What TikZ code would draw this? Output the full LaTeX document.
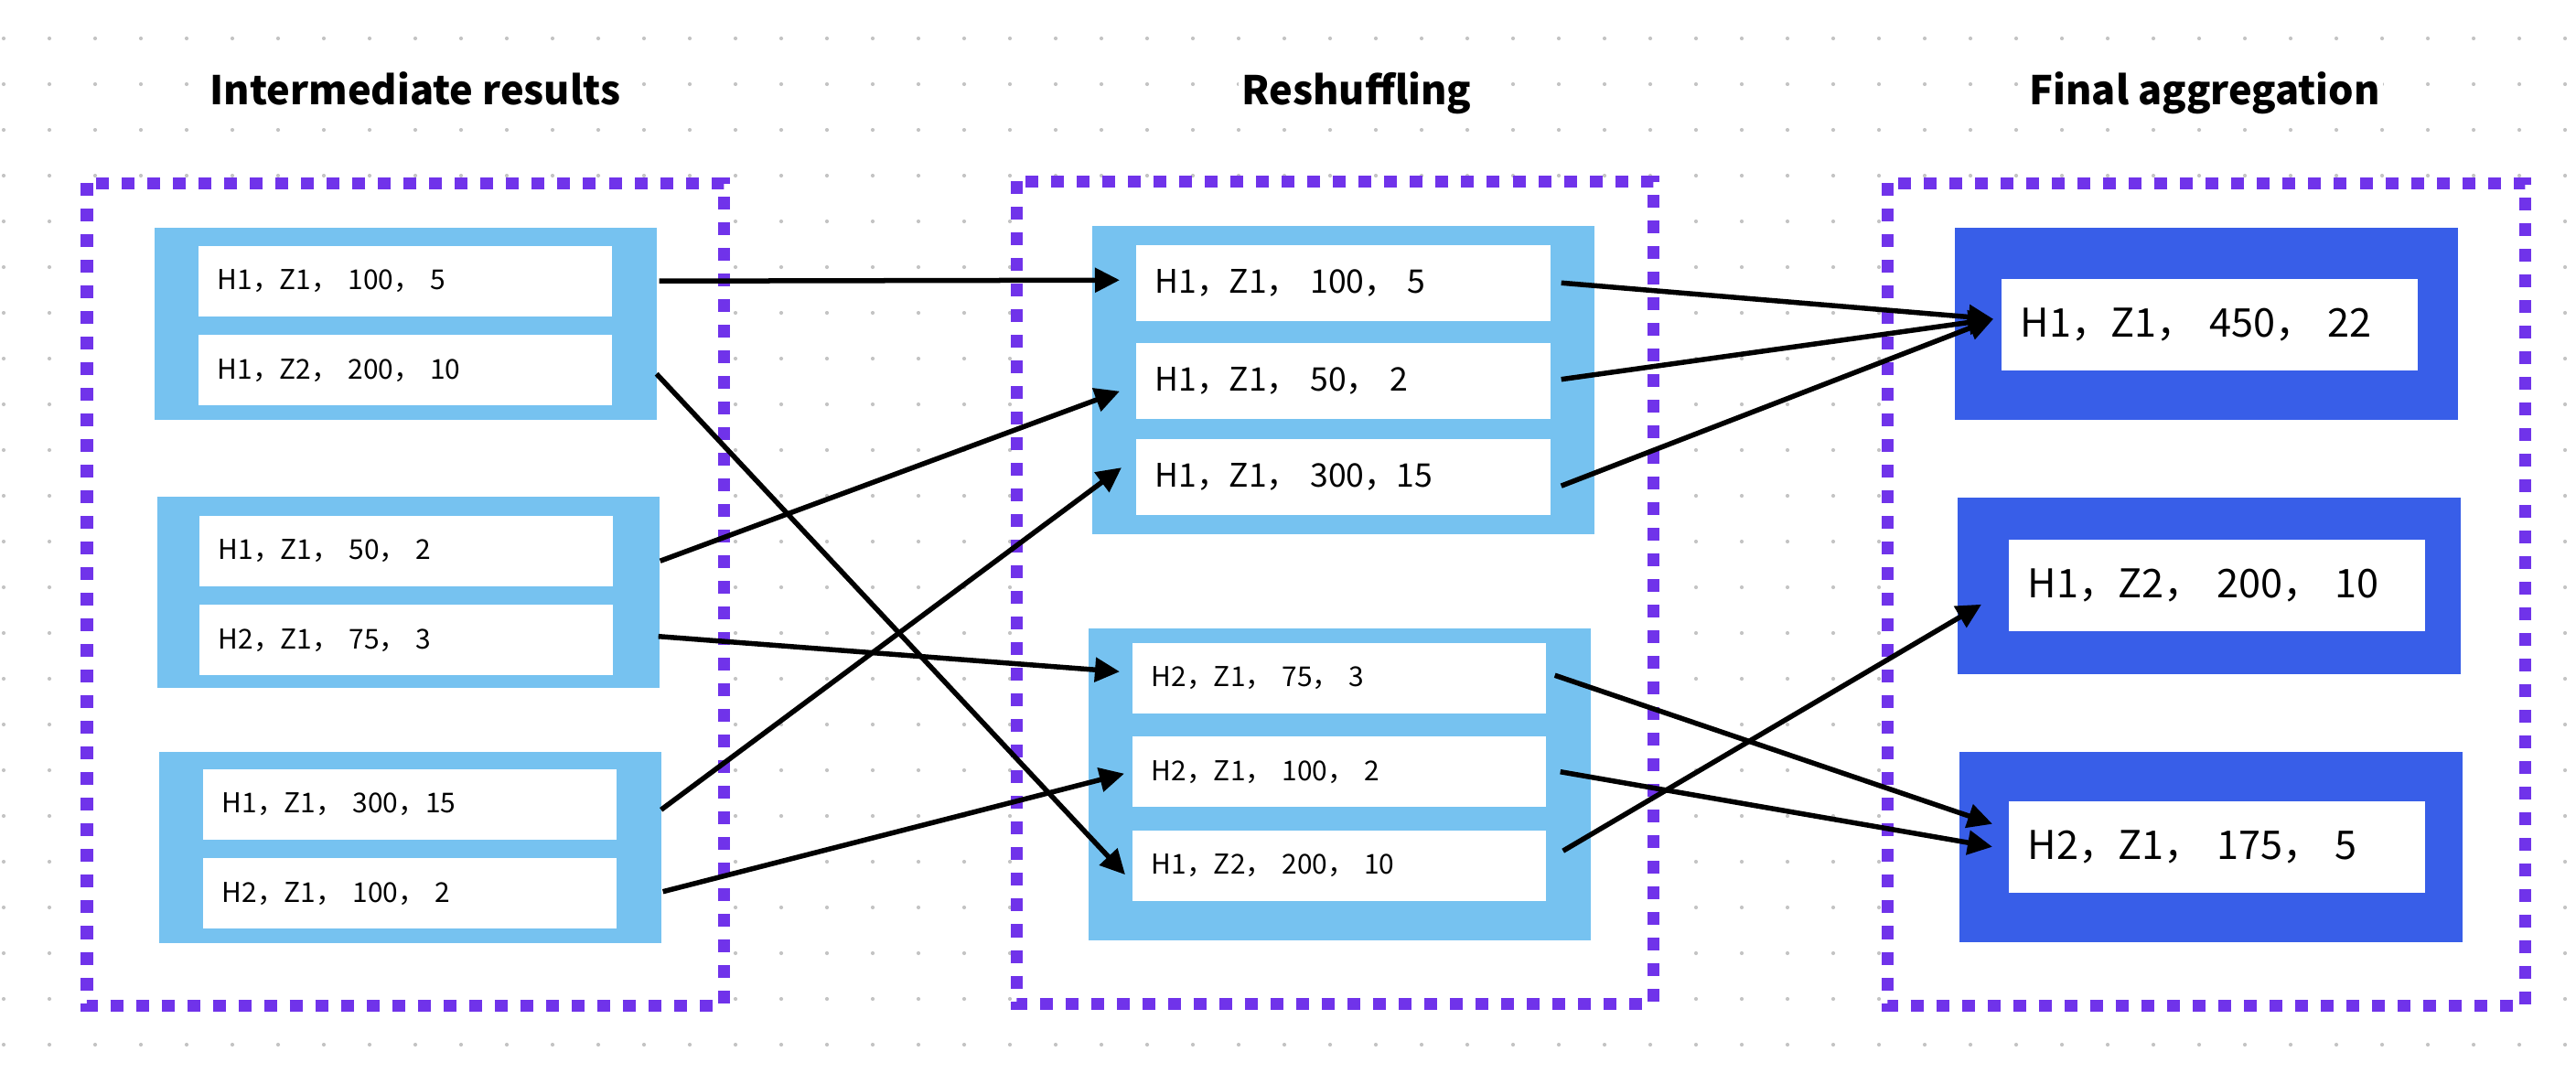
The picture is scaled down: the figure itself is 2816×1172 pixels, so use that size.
\documentclass[tikz,border=0pt]{standalone}
\usepackage{fontspec}
\setmainfont{Noto Sans CJK SC}
\usepackage{tikz}
\usetikzlibrary{positioning,calc,arrows.meta}
\definecolor{paleblue}{HTML}{76C2F0}
\definecolor{deepblue}{HTML}{385EE8}
\definecolor{framepurple}{HTML}{7033EA}
\definecolor{griddot}{HTML}{C4C4C4}
\tikzset{
  stage frame/.style={
    draw=framepurple,
    fill=white,
    line width=0.13cm,
    dash pattern=on 0.14cm off 0.14cm,
  },
  pale group/.style={
    fill=paleblue,
    anchor=north west,
    inner sep=0pt,
    minimum width=5.49cm,
    minimum height={#1},
  },
  deep group/.style={
    fill=deepblue,
    anchor=north west,
    inner sep=0pt,
    minimum width=5.50cm,
    minimum height={#1},
  },
  entry/.style={
    fill=white,
    anchor=north west,
    align=left,
    inner xsep=0.21cm,
    inner ysep=0pt,
  },
  small entry/.style={entry, text width=4.10cm, minimum height=0.77cm,
    font=\fontsize{8.5}{10}\selectfont},
  mid entry/.style={entry, text width=4.11cm, minimum height=0.83cm,
    font=\fontsize{10.1}{12}\selectfont},
  big entry/.style={entry, text width=4.13cm, minimum height=1.00cm,
    font=\fontsize{12.3}{14}\selectfont},
  heading/.style={
    anchor=base,
    fill=white,
    inner sep=1pt,
    font=\bfseries\fontsize{12.3}{14}\selectfont,
  },
  link/.style={line width=0.055cm, -{Triangle[length=0.27cm,width=0.26cm]}},
}

\begin{document}
\begin{tikzpicture}[x=0.01cm, y=-0.01cm]
    \path[use as bounding box, fill=white] (0,0) rectangle (2816,1172);
    \foreach \i in {0,...,56} {
      \foreach \j in {0,...,22} {
        \fill[griddot] (4+50*\i, 42+50*\j) circle (0.021cm);
      }
    }

    % stage frames
    \draw[stage frame] (95,200) rectangle (791,1099);
    \draw[stage frame] (1111,198) rectangle (1807,1097);
    \draw[stage frame] (2063,200) rectangle (2760,1099);

    \node[heading] (t1) at (454,114) {Intermediate results};
    \node[heading] (t2) at (1483,114) {Reshuffling};
    \node[heading] (t3) at (2410,114) {Final aggregation};

    % intermediate results
    \node[pale group=2.10cm] (l1) at (168,248) {};
    \node[small entry] (l1a) at (216,268) {H1，Z1， 100， 5};
    \node[small entry, below=0.19cm of l1a] (l1b) {H1，Z2， 200， 10};

    \node[pale group=2.09cm] (l2) at (171,542) {};
    \node[small entry] (l2a) at (217,563) {H1，Z1， 50， 2};
    \node[small entry, below=0.19cm of l2a] (l2b) {H2，Z1， 75， 3};

    \node[pale group=2.09cm] (l3) at (173,821) {};
    \node[small entry] (l3a) at (221,840) {H1，Z1， 300，15};
    \node[small entry, below=0.19cm of l3a] (l3b) {H2，Z1， 100， 2};

    % reshuffling
    \node[pale group=3.37cm] (m1) at (1193,246) {};
    \node[mid entry] (m1a) at (1241,267) {H1，Z1， 100， 5};
    \node[mid entry, below=0.23cm of m1a] (m1b) {H1，Z1， 50， 2};
    \node[mid entry, below=0.20cm of m1b] (m1c) {H1，Z1， 300，15};

    \node[pale group=3.41cm] (m2) at (1189,686) {};
    \node[small entry] (m2a) at (1237,702) {H2，Z1， 75， 3};
    \node[small entry, below=0.24cm of m2a] (m2b) {H2，Z1， 100， 2};
    \node[small entry, below=0.24cm of m2b] (m2c) {H1，Z2， 200， 10};

    % final aggregation
    \node[deep group=2.10cm] (r1) at (2136,248) {};
    \node[big entry] (r1a) at (2187,304) {H1，Z1， 450， 22};
    \node[deep group=1.93cm] (r2) at (2139,543) {};
    \node[big entry] (r2a) at (2195,589) {H1，Z2， 200， 10};
    \node[deep group=2.08cm] (r3) at (2141,821) {};
    \node[big entry] (r3a) at (2195,875) {H2，Z1， 175， 5};

    \draw[link] ($(l1a.east)+(51,0)$) -- ($(m1a.west)+(-17,-3)$);
    \draw[link] ($(l1b.east)+(48,4)$) -- ($(m2c.west)+(-7,10)$);
    \draw[link] ($(l2a.east)+(51,11)$) -- ($(m1b.west)+(-17,11)$);
    \draw[link] ($(l2b.east)+(49,-4)$) -- ($(m2a.west)+(-13,-7)$);
    \draw[link] ($(l3a.east)+(48,6)$) -- ($(m1c.west)+(-15,-10)$);
    \draw[link] ($(l3b.east)+(50,-2)$) -- ($(m2b.west)+(-8,2)$);

    \draw[link] ($(m1a.east)+(11,0)$) -- ($(r1a.west)+(-8,-6)$);
    \draw[link] ($(m1b.east)+(11,-2)$) -- ($(r1a.west)+(-8,-6)$);
    \draw[link] ($(m1c.east)+(11,10)$) -- ($(r1a.west)+(-8,-6)$);
    \draw[link] ($(m2a.east)+(9,-3)$) -- ($(r3a.west)+(-17,-25)$);
    \draw[link] ($(m2b.east)+(15,0)$) -- ($(r3a.west)+(-17,0)$);
    \draw[link] ($(m2c.east)+(18,-16)$) -- ($(r2a.west)+(-29,21)$);
\end{tikzpicture}
\end{document}
